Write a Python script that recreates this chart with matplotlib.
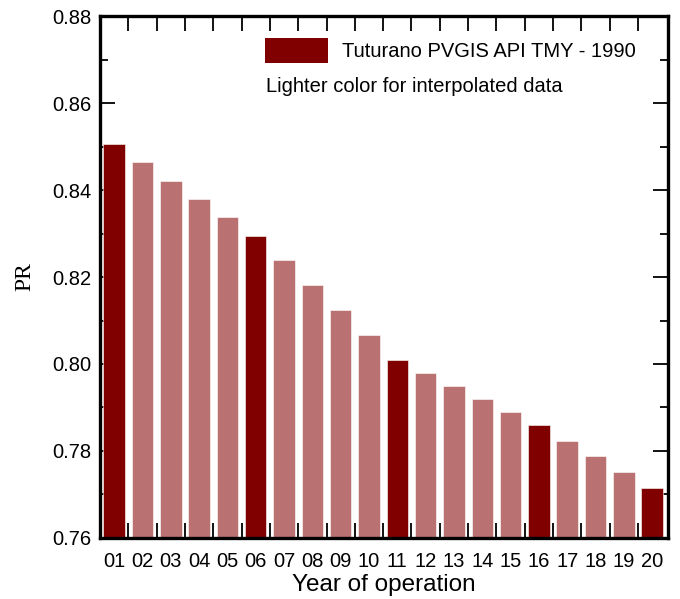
import numpy as np
import matplotlib
matplotlib.use("Agg")
import matplotlib.pyplot as plt
from matplotlib.ticker import MultipleLocator, FixedLocator

plt.rcParams.update({"font.family": ["Liberation Sans", "DejaVu Sans"]})

DARK = "#800000"   # simulated years
LIGHT = "#b97171"  # interpolated years

years = [f"{i:02d}" for i in range(1, 21)]
pr = [0.8506, 0.8464, 0.8421, 0.8379, 0.8338, 0.8294, 0.8239, 0.8182,
      0.8124, 0.8067, 0.8009, 0.7979, 0.7949, 0.7920, 0.7890, 0.7860,
      0.7823, 0.7789, 0.7752, 0.7715]
simulated = ["01", "06", "11", "16", "20"]

fig = plt.figure(figsize=(6.8, 5.99), dpi=100)
ax = fig.add_axes([0.147, 0.102, 0.835, 0.871])

x = np.arange(1, len(years) + 1)
cols = [DARK if y in simulated else LIGHT for y in years]
ax.bar(x, pr, width=0.76, color=cols, edgecolor="white", linewidth=0.4,
       zorder=2)

ax.set_xlim(0.5, 20.55)
ax.set_ylim(0.76, 0.88)
ax.set_xticks(x)
ax.set_xticklabels(years)
ax.xaxis.set_minor_locator(FixedLocator(x[:-1] + 0.5))
ax.yaxis.set_major_locator(MultipleLocator(0.02))
ax.yaxis.set_minor_locator(MultipleLocator(0.01))
ax.yaxis.set_major_formatter(matplotlib.ticker.FormatStrFormatter("%.2f"))

ax.tick_params(axis="x", which="major", length=0, labelsize=14.5, pad=10)
ax.tick_params(axis="x", which="minor", direction="in", length=11,
               width=1.3, top=True, bottom=True)
ax.tick_params(axis="y", which="major", direction="in", length=11,
               width=1.3, left=True, right=True, labelsize=14.5, pad=6)
ax.tick_params(axis="y", which="minor", direction="in", length=6,
               width=1.3, left=True, right=True)
for s in ax.spines.values():
    s.set_linewidth(2.4)

ax.set_xlabel("Year of operation", fontsize=17.5, labelpad=2)
ax.set_ylabel("PR", fontsize=17, family=["Liberation Serif", "DejaVu Serif"],
              labelpad=12)

# legend: solid swatch for the simulated years, note for the lighter bars
ax.bar([0], [0], color=DARK, label="Tuturano PVGIS API TMY - 1990")
ax.legend(loc="upper left", bbox_to_anchor=(0.263, 0.99), frameon=False,
          fontsize=14.5, handlelength=3.1, handleheight=1.55,
          handletextpad=0.7, borderpad=0.3)
ax.text(0.293, 0.865, "Lighter color for interpolated data",
        transform=ax.transAxes, fontsize=14.5, va="center", ha="left")

fig.savefig("out.png", dpi=100)
